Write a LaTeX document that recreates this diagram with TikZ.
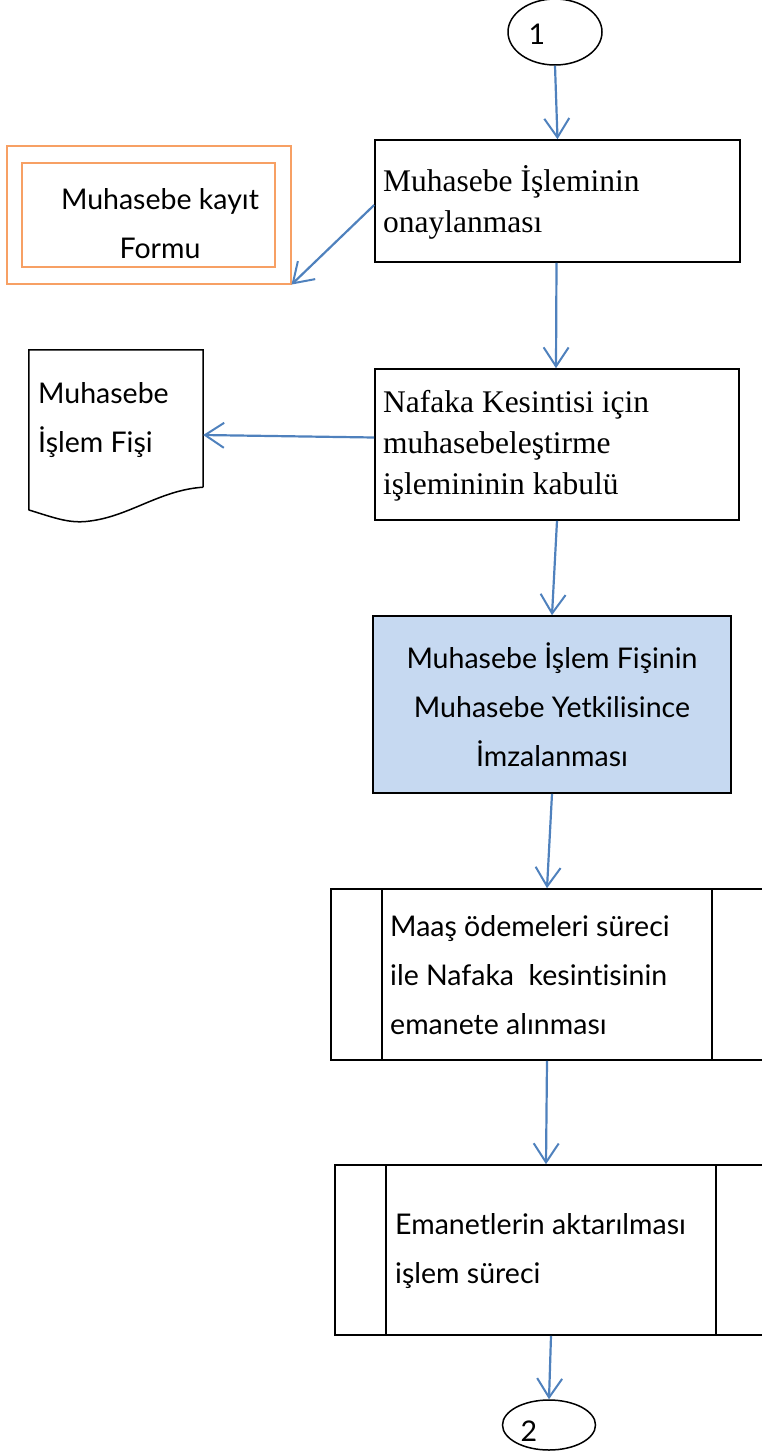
\documentclass[tikz,border=0pt]{standalone}
\usepackage{fontspec}
\setmainfont{Liberation Serif}
\newfontfamily\gill[Ligatures={NoCommon}]{Lato}
\usetikzlibrary{arrows.meta,shapes.geometric}
\definecolor{arrowblue}{RGB}{79,129,189}
\definecolor{boxblue}{RGB}{198,217,241}
\definecolor{formorange}{RGB}{247,160,100}
\tikzset{
  box/.style={draw=black, line width=1.6pt, rectangle, inner sep=0pt},
  flow/.style={draw=arrowblue, line width=2.2pt, -{Straight Barb[length=19pt,width=25pt,line width=2pt]}},
  serifT/.style={font=\fontsize{31.5}{41}\selectfont, align=left, anchor=west, inner sep=0pt},
  sansT/.style={font=\gill\fontsize{28.5}{49}\selectfont, inner sep=0pt},
  orangebox/.style={draw=formorange, line width=1.1pt, rectangle, inner sep=0pt},
  term/.style={draw=black, line width=1.5pt, ellipse, inner sep=0pt}
}
\begin{document}
\begin{tikzpicture}[x=1pt,y=-1pt]
\useasboundingbox (0,0) rectangle (761,1454);
% terminal 1
\node[term, minimum width=94pt, minimum height=66pt] (e1) at (555,32) {};
\node[sansT] (t1) at (537,34) {1};
% box 1
\node[box, minimum width=365pt, minimum height=122pt] (b1) at (557.5,201) {};
\node[serifT] (t2) at (383,202) {Muhasebe İşleminin\\onaylanması};
% form
\node[orangebox, minimum width=284pt, minimum height=138pt] (form) at (149,215) {};
\node[orangebox, minimum width=253pt, minimum height=104pt] (forminner) at (148.5,215) {};
\node[sansT, align=center] (t3) at (160,224) {Muhasebe kayıt\\Formu};
% box 2
\node[box, minimum width=364pt, minimum height=151pt] (b2) at (557,444.5) {};
\node[serifT] (t4) at (383,446) {Nafaka Kesintisi için\\muhasebeleştirme\\işlemininin kabulü};
% document
\node[minimum width=174pt, minimum height=137pt, inner sep=0pt] (doc) at (116,418.5) {};
\draw[line width=1.5pt] (doc.south east) -- (doc.north east) -- (doc.north west) -- (29,510)
  .. controls (55,518) and (70,524) .. (90,521)
  .. controls (130,516) and (160,490) .. (doc.south east);
\node[sansT, align=left, anchor=west] (t5) at (38,420) {Muhasebe\\İşlem Fişi};
% box 3
\node[box, fill=boxblue, minimum width=358pt, minimum height=177pt] (b3) at (552,704.5) {};
\node[sansT, align=center] (t6) at (552,705) {Muhasebe İşlem Fişinin\\Muhasebe Yetkilisince\\İmzalanması};
% box 4
\node[box, minimum width=432pt, minimum height=171pt] (b4) at (547,974.5) {};
\draw[line width=1.6pt] ([xshift=52pt]b4.north west) -- ([xshift=52pt]b4.south west);
\draw[line width=1.6pt] ([xshift=-52pt]b4.north east) -- ([xshift=-52pt]b4.south east);
\node[sansT, align=left, anchor=west] (t7) at (390,975) {Maaş ödemeleri süreci\\ile Nafaka\ \ kesintisinin\\emanete alınması};
% box 5
\node[box, minimum width=432pt, minimum height=170pt] (b5) at (551,1250) {};
\draw[line width=1.6pt] ([xshift=52pt]b5.north west) -- ([xshift=52pt]b5.south west);
\draw[line width=1.6pt] ([xshift=-52pt]b5.north east) -- ([xshift=-52pt]b5.south east);
\node[sansT, align=left, anchor=west] (t8) at (395,1251) {Emanetlerin aktarılması\\işlem süreci};
% terminal 2
\node[term, minimum width=93pt, minimum height=50pt] (e2) at (549,1425) {};
\node[sansT] (t9) at (529,1431) {2};
% connectors
\draw[flow] (e1.south) -- (b1.north);
\draw[flow] ([yshift=-4pt]b1.west) -- (form.south east);
\draw[flow] ([xshift=-1pt]b1.south) -- ([xshift=-1pt]b2.north);
\draw[flow] ([yshift=7pt]b2.west) -- ([yshift=-16.5pt]doc.east);
\draw[flow] (b2.south) -- (b3.north);
\draw[flow] (b3.south) -- (b4.north);
\draw[flow] (b4.south) -- ([xshift=-5pt]b5.north);
\draw[flow] (b5.south) -- (e2.north);
\end{tikzpicture}
\end{document}
